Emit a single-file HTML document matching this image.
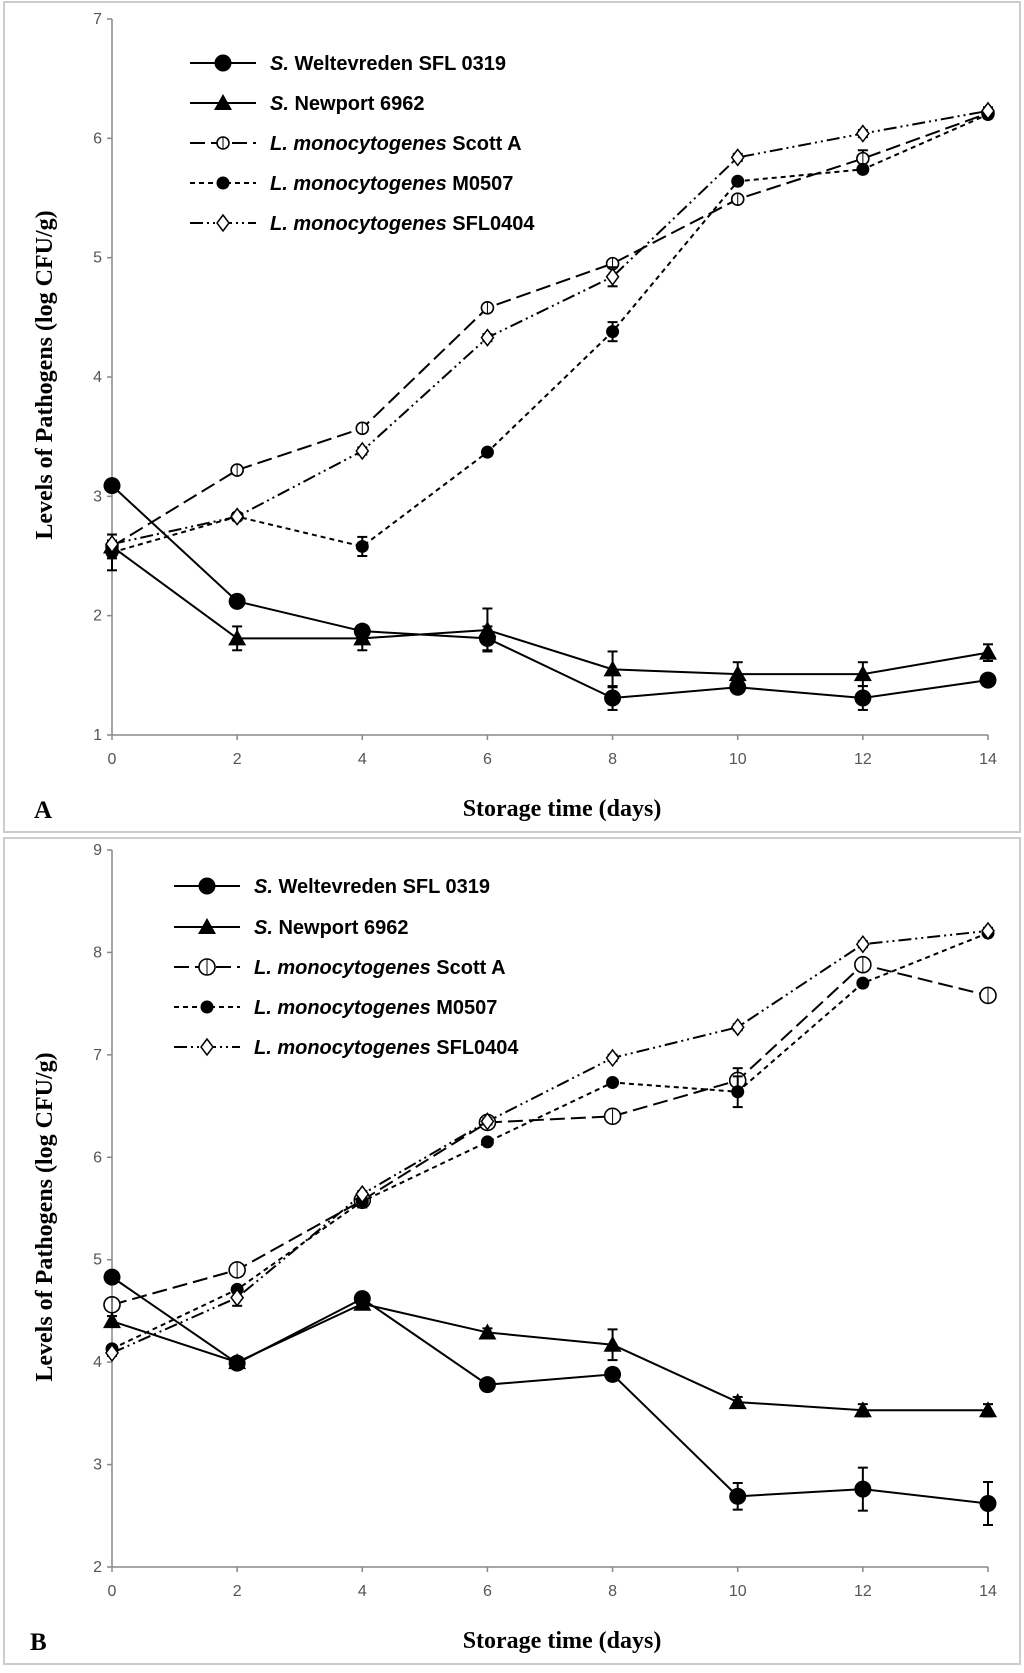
<!DOCTYPE html>
<html><head><meta charset="utf-8"><style>
body{margin:0;background:#fff}
svg text{font-family:"Liberation Sans",sans-serif}
</style></head><body>
<svg id="fig" width="1024" height="1668" viewBox="0 0 1024 1668" xmlns="http://www.w3.org/2000/svg">
<rect x="0" y="0" width="1024" height="1668" fill="#fff"/>
<rect x="4" y="2" width="1016" height="830" fill="none" stroke="#ccc" stroke-width="2"/>
<rect x="4" y="838" width="1016" height="826" fill="none" stroke="#ccc" stroke-width="2"/>
</svg>
<script>
const days = [0,2,4,6,8,10,12,14];
const seriesItalic = ["S.","S.","L. monocytogenes","L. monocytogenes","L. monocytogenes"];
const seriesRest = [" Weltevreden SFL 0319"," Newport 6962"," Scott A"," M0507"," SFL0404"];
const aSW = [3.09,2.12,1.87,1.81,1.31,1.40,1.31,1.46];
const aSN = [2.58,1.81,1.81,1.88,1.55,1.51,1.51,1.69];
const aScott = [2.58,3.22,3.57,4.58,4.95,5.49,5.83,6.21];
const aM0507 = [2.53,2.83,2.58,3.37,4.38,5.64,5.74,6.20];
const aSFL = [2.60,2.83,3.38,4.33,4.84,5.84,6.04,6.23];
const aErrSW = [0.05,0.04,0.05,0.1,0.1,0.05,0.1,0.04];
const aErrSN = [0.1,0.1,0.1,0.18,0.15,0.1,0.1,0.07];
const aErrScott = [0.03,0.03,0.03,0.03,0.03,0.03,0.07,0.03];
const aErrM0507 = [0.15,0.03,0.08,0.03,0.08,0.03,0.03,0.03];
const aErrSFL = [0.03,0.03,0.03,0.03,0.08,0.03,0.03,0.03];
const aTicks = [1,2,3,4,5,6,7];
const bSW = [4.83,3.99,4.62,3.78,3.88,2.69,2.76,2.62];
const bSN = [4.40,4.00,4.57,4.29,4.17,3.61,3.53,3.53];
const bScott = [4.56,4.90,5.58,6.34,6.40,6.75,7.88,7.58];
const bM0507 = [4.13,4.71,5.57,6.15,6.73,6.64,7.70,8.19];
const bSFL = [4.09,4.63,5.64,6.35,6.97,7.27,8.08,8.21];
const bErrSW = [0.05,0.04,0.05,0.05,0.06,0.13,0.21,0.21];
const bErrSN = [0.05,0.04,0.04,0.04,0.15,0.05,0.06,0.06];
const bErrScott = [0.03,0.03,0.03,0.03,0.03,0.12,0.03,0.03];
const bErrM0507 = [0.03,0.03,0.06,0.03,0.03,0.15,0.03,0.03];
const bErrSFL = [0.03,0.08,0.03,0.03,0.03,0.03,0.03,0.03];
const bTicks = [2,3,4,5,6,7,8,9];

const NS="http://www.w3.org/2000/svg";
const svg=document.getElementById('fig');
function mk(tag,attrs,parent){const e=document.createElementNS(NS,tag);for(const k in attrs)e.setAttribute(k,attrs[k]);(parent||svg).appendChild(e);return e;}

const styles=[
 {dash:"",marker:"bigdot"},
 {dash:"",marker:"tri"},
 {dash:"15,6",marker:"ocirc"},
 {dash:"5,4",marker:"dot"},
 {dash:"13,4,2,4,2,4",marker:"diamond"}
];

function marker(g,type,x,y,big){
  if(type==="bigdot") return mk('circle',{cx:x,cy:y,r:8.5,fill:'#000'},g);
  if(type==="dot") return mk('circle',{cx:x,cy:y,r:6.5,fill:'#000'},g);
  if(type==="tri") return mk('polygon',{points:`${x},${y-9} ${x-9},${y+7} ${x+9},${y+7}`,fill:'#000'},g);
  if(type==="ocirc"){const r=big?8:6;const c=mk('circle',{cx:x,cy:y,r:r,fill:'#fff',stroke:'#000','stroke-width':1.6},g);mk('line',{x1:x,y1:y-r,x2:x,y2:y+r,stroke:'#000','stroke-width':1},g);return c;}
  if(type==="diamond") return mk('polygon',{points:`${x},${y-8} ${x+6},${y} ${x},${y+8} ${x-6},${y}`,fill:'#fff',stroke:'#000','stroke-width':1.5},g);
}

function panel(cfg){
  const g=mk('g',{});
  
  
  const x0=112,x1=988,lo=cfg.ticks[0],hi=cfg.ticks[cfg.ticks.length-1];
  const X=d=>x0+(d-0)/(14-0)*(x1-x0);
  const Y=v=>cfg.yBot-(v-lo)/(hi-lo)*(cfg.yBot-cfg.yTop);
  const ax=mk('g',{},g);
  
  
  mk('line',{x1:x0,y1:cfg.yTop,x2:x0,y2:cfg.yBot,stroke:'#888','stroke-width':1.5},ax);
  mk('line',{x1:x0,y1:cfg.yBot,x2:x1,y2:cfg.yBot,stroke:'#888','stroke-width':1.5},ax);
  cfg.ticks.forEach(t=>{
    mk('line',{x1:x0-5,y1:Y(t),x2:x0,y2:Y(t),stroke:'#888','stroke-width':1.5},ax);
    const tx=mk('text',{x:x0-10,y:Y(t)+5,'text-anchor':'end','font-size':16,fill:'#555'},ax);
    tx.textContent=t;
    
    
  });
  days.forEach(d=>{
    mk('line',{x1:X(d),y1:cfg.yBot,x2:X(d),y2:cfg.yBot+5,stroke:'#888','stroke-width':1.5},ax);
    const tx=mk('text',{x:X(d),y:cfg.yBot+29,'text-anchor':'middle','font-size':16,fill:'#555'},ax);
    tx.textContent=d;
    
    
  });
  const xt=mk('text',{x:562,y:cfg.xTitleY,'text-anchor':'middle','font-size':24,'font-weight':'bold',style:'font-family:"Liberation Serif",serif'},g);
  xt.textContent='Storage time (days)';
  
  
  const yt=mk('text',{x:0,y:0,'text-anchor':'middle','font-size':24,'font-weight':'bold',style:'font-family:"Liberation Serif",serif',transform:`translate(52,${cfg.yTitleY}) rotate(-90)`},g);
  yt.textContent='Levels of Pathogens (log CFU/g)';
  
  
  const pl=mk('text',{x:cfg.letterX,y:cfg.xTitleY+2,'font-size':25,'font-weight':'bold',style:'font-family:"Liberation Serif",serif'},g);
  pl.textContent=cfg.letter;
  
  
  cfg.series.forEach((vals,i)=>{
    const s=styles[i];const errs=cfg.errs[i];
    const sg=mk('g',{},g);
    
    
    const pts=vals.map((v,j)=>X(days[j])+','+Y(v)).join(' ');
    const ln=mk('polyline',{points:pts,fill:'none',stroke:'#000','stroke-width':2,'stroke-dasharray':s.dash},sg);
    
    
    vals.forEach((v,j)=>{
      const e=errs[j];
      const x=X(days[j]);
      mk('line',{x1:x,y1:Y(v+e),x2:x,y2:Y(v-e),stroke:'#000','stroke-width':2},sg);
      mk('line',{x1:x-5,y1:Y(v+e),x2:x+5,y2:Y(v+e),stroke:'#000','stroke-width':2},sg);
      mk('line',{x1:x-5,y1:Y(v-e),x2:x+5,y2:Y(v-e),stroke:'#000','stroke-width':2},sg);
      const m=marker(sg,s.marker,x,Y(v),cfg.bigOpen);
      
      
    });
  });
  const lg=mk('g',{},g);
  
  
  seriesItalic.forEach((n,i)=>{
    const y=cfg.legY[i];const s=styles[i];
    const eg=mk('g',{},lg);
    
    
    mk('line',{x1:cfg.legX,y1:y,x2:cfg.legX+66,y2:y,stroke:'#000','stroke-width':2,'stroke-dasharray':s.dash},eg);
    marker(eg,s.marker,cfg.legX+33,y,cfg.bigOpen);
    const t=mk('text',{x:cfg.legX+80,y:y+7,'font-size':20,'font-weight':'bold'},eg);
    const it=mk('tspan',{'font-style':'italic'},t);it.textContent=n;
    const rest=mk('tspan',{},t);rest.textContent=seriesRest[i];
  });
}

panel({name:'panel-a',letter:'A',letterX:34,ticks:aTicks,yTop:19,yBot:735,xTitleY:816,yTitleY:375,
  series:[aSW,aSN,aScott,aM0507,aSFL],errs:[aErrSW,aErrSN,aErrScott,aErrM0507,aErrSFL],
  legX:190,bigOpen:false,legY:[63,103,143,183,223]});
panel({name:'panel-b',letter:'B',letterX:30,ticks:bTicks,yTop:850,yBot:1567,xTitleY:1648,yTitleY:1217,
  series:[bSW,bSN,bScott,bM0507,bSFL],errs:[bErrSW,bErrSN,bErrScott,bErrM0507,bErrSFL],
  legX:174,bigOpen:true,legY:[886,927,967,1007,1047]});
</script>
</body></html>
